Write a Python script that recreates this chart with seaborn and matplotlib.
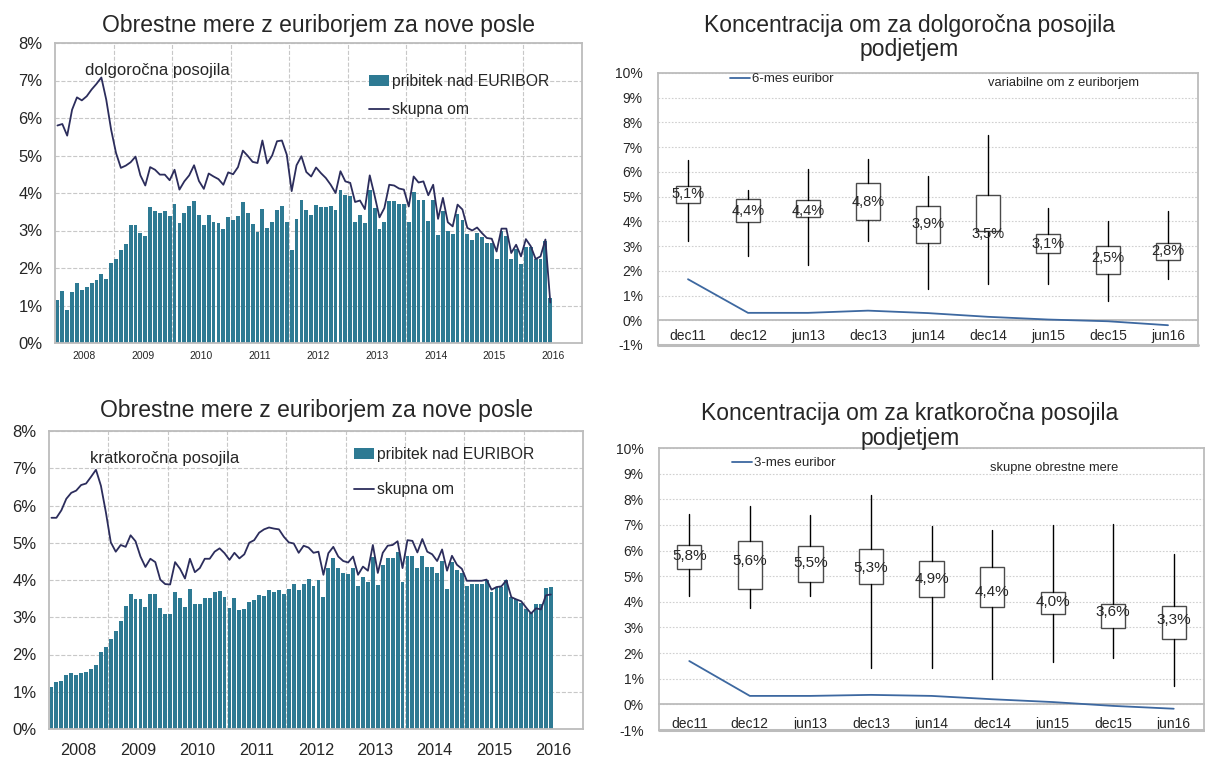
import numpy as np
import pandas as pd
import seaborn as sns
import matplotlib.pyplot as plt
from matplotlib.ticker import FuncFormatter, FixedLocator

sns.set_style("white")
plt.rcParams['font.family'] = ['Liberation Sans', 'DejaVu Sans']

# monthly data, jan 2008 - jun 2016
years = ["2008", "2009", "2010", "2011", "2012", "2013", "2014", "2015", "2016"]

long_spread = [1.16, 1.40, 0.89, 1.36, 1.60, 1.42, 1.49, 1.60, 1.69, 1.84, 1.72, 2.13,
               2.24, 2.49, 2.64, 3.16, 3.16, 2.93, 2.86, 3.64, 3.53, 3.48, 3.53, 3.40,
               3.70, 3.20, 3.48, 3.66, 3.80, 3.42, 3.16, 3.42, 3.24, 3.20, 3.05, 3.36,
               3.27, 3.40, 3.77, 3.46, 3.18, 2.95, 3.58, 3.06, 3.22, 3.56, 3.66, 3.24,
               2.47, 3.32, 3.82, 3.56, 3.42, 3.67, 3.64, 3.64, 3.66, 3.56, 4.09, 3.96,
               3.91, 3.22, 3.42, 3.19, 4.09, 3.61, 3.05, 3.24, 3.80, 3.80, 3.72, 3.70,
               3.24, 4.02, 3.82, 3.82, 3.26, 3.82, 2.89, 3.51, 3.00, 2.92, 3.45, 3.29,
               2.92, 2.74, 2.93, 2.84, 2.67, 2.68, 2.25, 2.98, 2.86, 2.23, 2.52, 2.12,
               2.56, 2.56, 2.25, 2.25, 2.73, 1.21]
long_total = [5.80, 5.84, 5.53, 6.22, 6.55, 6.47, 6.58, 6.76, 6.91, 7.08, 6.49, 5.69,
              5.07, 4.67, 4.73, 4.82, 4.97, 4.47, 4.20, 4.69, 4.62, 4.49, 4.49, 4.34,
              4.62, 4.09, 4.31, 4.47, 4.74, 4.32, 4.11, 4.52, 4.44, 4.37, 4.22, 4.55,
              4.50, 4.69, 5.13, 4.99, 4.83, 4.80, 5.40, 4.79, 5.00, 5.38, 5.40, 5.02,
              4.05, 4.74, 4.98, 4.56, 4.44, 4.68, 4.53, 4.40, 4.22, 4.00, 4.58, 4.31,
              4.27, 3.76, 3.80, 3.57, 4.47, 3.93, 3.35, 3.60, 4.22, 4.20, 4.12, 4.09,
              3.64, 4.44, 4.28, 4.31, 3.94, 4.22, 3.31, 3.87, 3.22, 3.11, 3.69, 3.56,
              3.07, 3.00, 3.08, 2.93, 2.80, 2.78, 2.44, 3.05, 3.05, 2.40, 2.62, 2.31,
              2.77, 2.58, 2.24, 2.31, 2.76, 1.08]
short_spread = [1.13, 1.25, 1.28, 1.44, 1.49, 1.46, 1.51, 1.53, 1.61, 1.73, 2.08, 2.21,
                2.42, 2.62, 2.90, 3.30, 3.63, 3.50, 3.48, 3.27, 3.63, 3.63, 3.25, 3.10,
                3.10, 3.67, 3.52, 3.27, 3.75, 3.36, 3.36, 3.51, 3.51, 3.67, 3.70, 3.55,
                3.25, 3.51, 3.19, 3.22, 3.41, 3.46, 3.59, 3.57, 3.74, 3.68, 3.74, 3.63,
                3.75, 3.88, 3.73, 3.88, 4.04, 3.83, 4.01, 3.54, 4.32, 4.58, 4.32, 4.19,
                4.16, 4.32, 3.83, 4.07, 3.94, 4.63, 3.86, 4.39, 4.58, 4.58, 4.76, 3.94,
                4.65, 4.65, 4.32, 4.65, 4.34, 4.34, 4.19, 4.50, 3.76, 4.48, 4.26, 4.18,
                3.83, 3.90, 3.88, 3.90, 3.99, 3.67, 3.81, 3.81, 3.99, 3.54, 3.48, 3.39,
                3.21, 3.12, 3.35, 3.35, 3.79, 3.81]
short_total = [5.67, 5.67, 5.87, 6.18, 6.34, 6.40, 6.55, 6.59, 6.77, 6.96, 6.53, 5.82,
               5.01, 4.76, 4.94, 4.89, 5.20, 5.04, 4.63, 4.35, 4.57, 4.48, 4.01, 3.89,
               3.88, 4.48, 4.30, 4.04, 4.57, 4.21, 4.32, 4.57, 4.57, 4.76, 4.85, 4.72,
               4.54, 4.73, 4.58, 4.69, 5.00, 5.07, 5.27, 5.36, 5.41, 5.38, 5.36, 5.16,
               5.01, 4.98, 4.73, 4.92, 4.87, 4.73, 4.76, 4.14, 4.72, 4.89, 4.63, 4.51,
               4.47, 4.63, 4.14, 4.36, 4.25, 4.94, 4.19, 4.73, 4.92, 4.94, 5.04, 4.32,
               5.07, 5.05, 4.74, 5.10, 4.76, 4.69, 4.51, 4.82, 4.25, 4.65, 4.41, 4.30,
               3.98, 3.98, 3.98, 3.98, 4.01, 3.74, 3.81, 3.83, 3.99, 3.54, 3.48, 3.43,
               3.26, 3.10, 3.24, 3.21, 3.59, 3.61]

# half-year distributions
periods = ["dec11", "dec12", "jun13", "dec13", "jun14", "dec14", "jun15", "dec15", "jun16"]

long_hi = [6.47, 5.25, 6.11, 6.51, 5.82, 7.49, 4.56, 4.03, 4.40]
long_q3 = [5.43, 4.91, 4.87, 5.54, 4.63, 5.07, 3.49, 3.01, 3.11]
long_med = [5.1, 4.4, 4.4, 4.8, 3.9, 3.5, 3.1, 2.5, 2.8]
long_q1 = [4.75, 3.96, 4.17, 4.06, 3.11, 3.62, 2.71, 1.86, 2.43]
long_lo = [3.22, 2.61, 2.23, 3.22, 1.28, 1.45, 1.45, 0.77, 1.66]
euribor6 = [1.66, 0.30, 0.30, 0.39, 0.29, 0.14, 0.03, -0.04, -0.20]

short_hi = [7.43, 7.74, 7.38, 8.17, 6.96, 6.81, 7.00, 7.04, 5.87]
short_q3 = [6.22, 6.36, 6.17, 6.05, 5.58, 5.35, 4.39, 3.91, 3.85]
short_med = [5.8, 5.6, 5.5, 5.3, 4.9, 4.4, 4.0, 3.6, 3.3]
short_q1 = [5.27, 4.49, 4.78, 4.69, 4.20, 3.78, 3.52, 2.99, 2.54]
short_lo = [4.24, 3.77, 4.24, 1.42, 1.42, 0.99, 1.66, 1.81, 0.72]
euribor3 = [1.69, 0.33, 0.33, 0.37, 0.33, 0.20, 0.09, -0.06, -0.17]

bar_color = "#2e7a93"
line_color = "#2c2d5c"
eur_color = "#3d68a0"
frame_color = "#bcbcbc"
grid_color = "#c8c8c8"

W, H = 1205, 758
fig = plt.figure(figsize=(W / 100, H / 100), dpi=100)


def px_axes(l, t, r, b):
    return fig.add_axes([l / W, 1 - b / H, (r - l) / W, (b - t) / H])


pct = FuncFormatter(lambda v, p: f"{v:.0f}%")


def draw_monthly(ax, spread, total, note, note_xy, year_fs, year_pad, leg_xy, leg_sp, title_pad):
    df = pd.DataFrame({"i": np.arange(len(spread)), "pribitek": spread, "skupna": total})
    sns.barplot(data=df, x="i", y="pribitek", native_scale=True, color=bar_color,
                saturation=1, width=0.78, linewidth=0, ax=ax,
                label="pribitek nad EURIBOR", zorder=2)
    sns.lineplot(data=df, x="i", y="skupna", color=line_color, linewidth=1.3,
                 ax=ax, label="skupna om", zorder=3)
    ax.set_xlim(-0.5, 107.5)
    ax.set_ylim(0, 8)
    ax.set_yticks(range(0, 9))
    ax.yaxis.set_major_formatter(pct)
    ax.xaxis.set_major_locator(FixedLocator([5.5 + 12 * k for k in range(len(years))]))
    ax.set_xticklabels(years)
    ax.xaxis.set_minor_locator(FixedLocator([11.5 + 12 * k for k in range(len(years) - 1)]))
    ax.grid(which="major", axis="y", ls="--", color=grid_color, lw=0.8, zorder=0)
    ax.grid(which="minor", axis="x", ls="--", color=grid_color, lw=0.8, zorder=0)
    ax.set_axisbelow(True)
    ax.tick_params(axis="y", labelsize=12, length=0, pad=9)
    ax.tick_params(axis="x", which="both", labelsize=year_fs, length=0, pad=year_pad)
    ax.set_xlabel("")
    ax.set_ylabel("")
    for s in ax.spines.values():
        s.set_color(frame_color)
        s.set_linewidth(1.3)
    ax.text(note_xy[0], note_xy[1], note, transform=ax.transAxes, fontsize=12,
            ha="left", va="center")
    handles, labels = ax.get_legend_handles_labels()
    order = [labels.index("pribitek nad EURIBOR"), labels.index("skupna om")]
    ax.legend([handles[k] for k in order], [labels[k] for k in order],
              loc="upper left", bbox_to_anchor=leg_xy, frameon=False, fontsize=11.3,
              handlelength=1.3, handletextpad=0.15, labelspacing=leg_sp,
              borderpad=0, borderaxespad=0)
    ax.set_title("Obrestne mere z euriborjem za nove posle", fontsize=16.5, pad=title_pad)


def draw_boxes(ax, hi, q3, med, q1, lo, eur, eur_label, note, note_xy, leg_xy,
               label_fs, xpad, title, title_x, title_pad):
    pos = np.arange(len(periods))
    stats = [dict(whishi=h, q3=a, med=m, q1=b, whislo=l)
             for h, a, m, b, l in zip(hi, q3, med, q1, lo)]
    ax.bxp(stats, positions=pos, widths=0.4, showfliers=False, showcaps=False,
           patch_artist=True,
           boxprops=dict(facecolor="white", edgecolor="#4a4a4a", linewidth=1),
           whiskerprops=dict(color="black", linewidth=1),
           medianprops=dict(linewidth=0))
    sns.lineplot(x=pos, y=eur, color=eur_color, linewidth=1.3, ax=ax, label=eur_label, zorder=3)
    for x, m in zip(pos, med):
        ax.text(x, m, f"{m:.1f}%".replace(".", ","), ha="center", va="center",
                fontsize=label_fs, zorder=4)
    ax.set_xlim(-0.5, len(periods) - 0.5)
    ax.set_ylim(-1, 10)
    ax.set_yticks(range(-1, 11))
    ax.yaxis.set_major_formatter(pct)
    ax.set_xticks(pos)
    ax.set_xticklabels(periods)
    ax.xaxis.set_minor_locator(FixedLocator(pos[:-1] + 0.5))
    ax.grid(which="major", axis="y", ls=(0, (1.5, 1.5)), color="#d0d0d0", lw=0.8)
    ax.grid(which="major", axis="x", visible=False)
    ax.set_axisbelow(True)
    ax.spines["bottom"].set_position(("data", 0))
    for s in ax.spines.values():
        s.set_color(frame_color)
        s.set_linewidth(1.3)
    ax.axhline(-1, color=frame_color, lw=2.2, clip_on=False)
    ax.tick_params(axis="y", labelsize=10, length=0, pad=11)
    ax.tick_params(axis="x", which="major", labelsize=10, length=0, pad=xpad)
    ax.tick_params(axis="x", which="minor", length=6, color=frame_color, direction="inout")
    ax.text(note_xy[0], note_xy[1], note, transform=ax.transAxes, fontsize=9.3,
            ha="center", va="center")
    ax.legend(loc="upper left", bbox_to_anchor=leg_xy, frameon=False, fontsize=9.5,
              handlelength=1.5, handletextpad=0.15, borderpad=0, borderaxespad=0)
    ax.set_title(title, fontsize=16.5, x=title_x, pad=title_pad, linespacing=1.1)


ax1 = px_axes(55, 43, 582, 343)
draw_monthly(ax1, long_spread, long_total, "dolgoročna posojila", (0.057, 0.91),
             7.5, 6, (0.596, 0.897), 0.85, 8)

ax2 = px_axes(49, 431, 583, 729)
draw_monthly(ax2, short_spread, short_total, "kratkoročna posojila", (0.077, 0.909),
             11.7, 10, (0.571, 0.946), 1.3, 10)

ax3 = px_axes(658, 73, 1198, 345)
draw_boxes(ax3, long_hi, long_q3, long_med, long_q1, long_lo, euribor6, "6-mes euribor",
           "variabilne om z euriborjem", (0.75, 0.963), (0.133, 1.0), 10.5, 6.5,
           "Koncentracija om za dolgoročna posojila\npodjetjem", 0.465, 12)

ax4 = px_axes(659, 448, 1204, 730)
draw_boxes(ax4, short_hi, short_q3, short_med, short_q1, short_lo, euribor3, "3-mes euribor",
           "skupne obrestne mere", (0.725, 0.929), (0.134, 0.968), 11, 9,
           "Koncentracija om za kratkoročna posojila\npodjetjem", 0.46, 2)

fig.savefig("out.png", dpi=100)
